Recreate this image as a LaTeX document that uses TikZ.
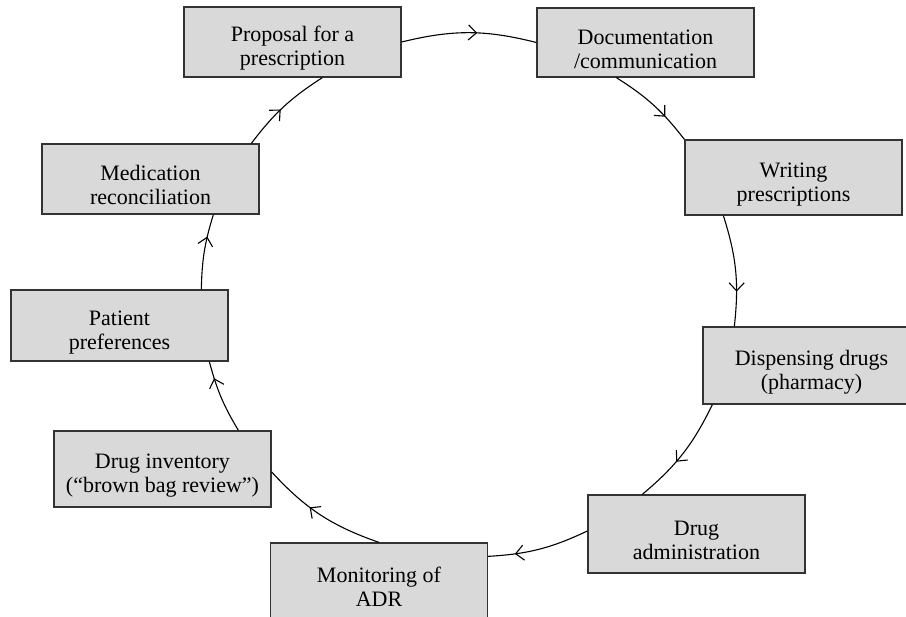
\documentclass[tikz,border=0pt]{standalone}
\usepackage{fontspec}
\setmainfont{Liberation Serif}
\usetikzlibrary{arrows.meta,decorations.markings,calc}
\definecolor{boxfill}{HTML}{D9D9D9}
\definecolor{boxline}{HTML}{333333}
\newcommand{\topstrut}{\rule{0pt}{28pt}}
\tikzset{
  stepbox/.style={draw=boxline, fill=boxfill, line width=1.3pt, minimum width=217pt,
    align=center, inner sep=0pt, font=\fontsize{22}{24}\selectfont},
  flow/.style={draw=black, line width=1.1pt, postaction={decorate},
    decoration={markings, mark=at position #1 with {\arrow[line width=1.1pt]{Straight Barb[length=8pt,width=15pt]}}}},
}
\begin{document}
\begin{tikzpicture}[x=1pt,y=1pt]
\clip (0,0) rectangle (906,-617);
\fill[white] (0,0) rectangle (906,-617);
\node[stepbox, minimum height=70pt] (p) at (292.5,-42) {\topstrut Proposal for a\\prescription};
\node[stepbox, minimum height=69pt] (d) at (645.5,-42.5) {\topstrut Documentation\\/communication};
\node[stepbox, minimum height=75pt] (w) at (793.5,-177.5) {\topstrut Writing\\prescriptions};
\node[stepbox, minimum height=77pt] (s) at (811.5,-365.5) {\topstrut Dispensing drugs\\(pharmacy)};
\node[stepbox, minimum height=78pt] (a) at (696.5,-534) {\topstrut Drug\\administration};
\node[stepbox, minimum height=76pt] (m) at (379,-581) {\topstrut Monitoring of\\ADR};
\node[stepbox, minimum height=76pt] (i) at (162.5,-469) {\topstrut Drug inventory\\(“brown bag review”)};
\node[stepbox, minimum height=71pt] (t) at (119.5,-325.5) {\topstrut Patient\\preferences};
\node[stepbox, minimum height=70pt] (r) at (150.5,-179) {\topstrut Medication\\reconciliation};

\draw[flow=0.56] (p.east) to[bend left=14] (d.west);
\draw[flow=0.68] ([xshift=80pt]d.south west) to[bend left=10] (w.north west);
\draw[flow=0.69] ([xshift=39pt]w.south west) to[bend left=12] ([xshift=32pt]s.north west);
\draw[flow=0.59] ([xshift=10pt]s.south west) to[bend left=12] ([xshift=55pt]a.north west);
\draw[flow=0.74] ([yshift=3pt]a.west) to[bend left=11] ([yshift=-14pt]m.north east);
\draw[flow=0.6] ([xshift=109pt]m.north west) to[bend left=14] ([yshift=-3pt]i.east);
\draw[flow=0.77] ([xshift=185pt]i.north west) to[bend left=8] ([xshift=199pt]t.south west);
\draw[flow=0.7] ([xshift=191pt]t.north west) to[bend left=8] ([xshift=172pt]r.south west);
\draw[flow=0.46] ([xshift=210pt]r.north west) to[bend left=10] ([xshift=139pt]p.south west);
\end{tikzpicture}
\end{document}
